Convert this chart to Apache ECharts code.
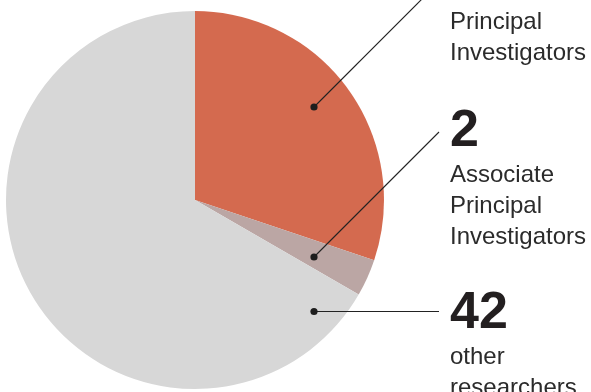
<!DOCTYPE html>
<html>
<head>
<meta charset="utf-8">
<script src="https://cdn.jsdelivr.net/npm/echarts@6/dist/echarts.min.js"></script>
<style>
html,body{margin:0;padding:0;background:#fff;}
#chart{width:591px;height:392px;}
</style>
</head>
<body>
<div id="chart"></div>
<script>
// ---- data ----
var categories = ['Principal Investigators', 'Associate Principal Investigators', 'other researchers'];
var values = [19, 2, 42];
var labelLines = [['Principal', 'Investigators'], ['Associate', 'Principal', 'Investigators'], ['other', 'researchers']];

// ---- style / layout ----
var colors = ['#D46A4F', '#BBA6A4', '#D7D7D7'];
var pieCenter = [195, 200];
var pieRadius = 189;
var dotPos = [[314, 107], [314, 257], [314, 311.5]];   // leader-line start dots
var labelTop = [-49, 104, 286];                      // label block tops
var labelX = 450;
var lineEndX = 439;
var lineEndY = [-18, 132, 311.5];

var chart = echarts.init(document.getElementById('chart'), null, {renderer: 'canvas'});

var data = categories.map(function (c, i) {
  return {name: c, value: values[i], itemStyle: {color: colors[i]}};
});

var graphics = [];
dotPos.forEach(function (d, i) {
  graphics.push({type: 'polyline', shape: {points: [d, [lineEndX, lineEndY[i]]]},
    style: {stroke: '#222222', lineWidth: 1.1, fill: null}, z: 100, silent: true});
  graphics.push({type: 'circle', shape: {cx: d[0], cy: d[1], r: 3.6},
    style: {fill: '#1e1e1e'}, z: 101, silent: true});
});

var option = {
  animation: false,
  backgroundColor: '#ffffff',
  series: [{
    type: 'pie',
    center: pieCenter,
    radius: pieRadius,
    startAngle: 90,
    clockwise: true,
    avoidLabelOverlap: false,
    silent: true,
    emphasis: {disabled: true},
    itemStyle: {borderWidth: 0},
    data: data,
    label: {
      show: true,
      position: 'outside',
      formatter: function (p) {
        var s = '{num|' + p.value + '}';
        labelLines[p.dataIndex].forEach(function (t) { s += '\n{txt|' + t + '}'; });
        return s;
      },
      rich: {
        num: {fontFamily: 'Liberation Sans', fontSize: 52, fontWeight: 'bold', color: '#231F20', lineHeight: 56},
        txt: {fontFamily: 'Liberation Sans', fontSize: 24, color: '#2b2b2b', lineHeight: 31}
      }
    },
    labelLine: {show: false},
    labelLayout: function (params) {
      var i = params.dataIndex;
      return {
        x: labelX,
        y: labelTop[i],
        align: 'left',
        verticalAlign: 'top'
      };
    }
  }],
  graphic: graphics
};
chart.setOption(option);
</script>
</body>
</html>
